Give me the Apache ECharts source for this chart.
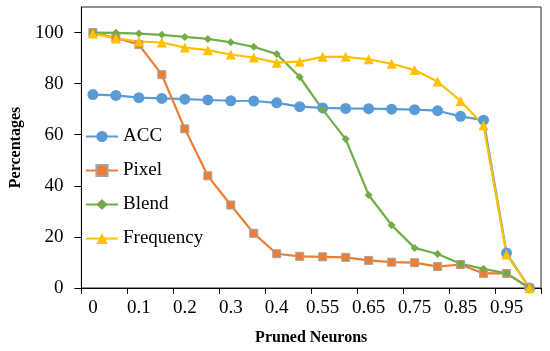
<!DOCTYPE html>
<html>
<head>
<meta charset="utf-8">
<script src="https://cdn.jsdelivr.net/npm/echarts@6/dist/echarts.min.js"></script>
<style>
html,body{margin:0;padding:0;background:#fff;}
#chart{width:550px;height:351px;}
</style>
</head>
<body>
<div id="chart"></div>
<script>
var categories = ['0','0.05','0.1','0.15','0.2','0.25','0.3','0.35','0.4','0.5','0.55','0.6','0.65','0.7','0.75','0.8','0.85','0.9','0.95','1'];
var accValues = [75.7, 75.4, 74.5, 74.2, 73.9, 73.6, 73.3, 73.2, 72.5, 71.0, 70.5, 70.3, 70.2, 70.0, 69.8, 69.4, 67.2, 65.7, 13.7, 0];
var pixelValues = [100, 97.9, 95.3, 83.5, 62.3, 43.9, 32.5, 21.4, 13.4, 12.4, 12.2, 12.0, 10.8, 10.1, 9.9, 8.4, 9.2, 5.7, 5.7, 0];
var blendValues = [100, 99.9, 99.6, 99.1, 98.3, 97.5, 96.2, 94.4, 91.6, 82.6, 69.8, 58.3, 36.4, 24.6, 15.7, 13.3, 9.5, 7.5, 5.7, 0];
var freqValues = [99.6, 97.7, 96.5, 96.1, 94.1, 93.1, 91.4, 90.2, 88.2, 88.6, 90.5, 90.5, 89.5, 87.8, 85.3, 80.8, 73.2, 63.7, 13.1, 0];
var seriesNames = ['ACC', 'Pixel', 'Blend', 'Frequency'];

var font = "'Liberation Serif', 'Times New Roman', serif";
var chart = echarts.init(document.getElementById('chart'), null, {renderer: 'canvas'});

function mk(name, data, color, symbol, size, borderColor) {
  return {
    name: name,
    type: 'line',
    data: data,
    symbol: symbol,
    symbolSize: size,
    showSymbol: true,
    animation: false,
    lineStyle: {color: color, width: 2.2},
    itemStyle: {color: color, borderColor: borderColor || color, borderWidth: borderColor ? 1 : 0}
  };
}

chart.setOption({
  backgroundColor: '#fff',
  animation: false,
  textStyle: {fontFamily: font},
  grid: {left: 62, right: 9, top: 7, bottom: 62, show: true, borderColor: '#222', borderWidth: 1},
  legend: {
    orient: 'vertical',
    left: 80,
    top: 122,
    itemWidth: 32,
    itemHeight: 14,
    itemGap: 15,
    textStyle: {fontFamily: font, fontSize: 19, color: '#000'},
    data: seriesNames
  },
  xAxis: {
    type: 'category',
    data: categories,
    boundaryGap: true,
    name: 'Pruned Neurons',
    nameLocation: 'middle',
    nameGap: 42,
    nameTextStyle: {fontFamily: font, fontSize: 16, fontWeight: 'bold', color: '#000'},
    axisLine: {lineStyle: {color: '#000', width: 1}},
    axisTick: {show: true, inside: false, length: 6, interval: 1, lineStyle: {color: '#000'}},
    axisLabel: {interval: 1, margin: 11, fontFamily: font, fontSize: 19, color: '#000'},
    splitLine: {show: false}
  },
  yAxis: {
    type: 'value',
    min: 0,
    max: 110,
    interval: 20,
    name: 'Percentages',
    nameLocation: 'middle',
    nameGap: 50,
    nameTextStyle: {fontFamily: font, fontSize: 16, fontWeight: 'bold', color: '#000'},
    axisLine: {show: true, lineStyle: {color: '#000', width: 1}},
    axisTick: {show: true, inside: false, length: 7, lineStyle: {color: '#000'}},
    axisLabel: {margin: 18, fontFamily: font, fontSize: 19, color: '#000', showMaxLabel: false},
    splitLine: {show: false}
  },
  series: [
    mk('ACC', accValues, '#5B9BD5', 'circle', 11),
    mk('Pixel', pixelValues, '#ED7D31', 'rect', 8, '#A5A5A5'),
    mk('Blend', blendValues, '#70AD47', 'diamond', 8),
    mk('Frequency', freqValues, '#FFC000', 'triangle', 10)
  ]
});
</script>
</body>
</html>
